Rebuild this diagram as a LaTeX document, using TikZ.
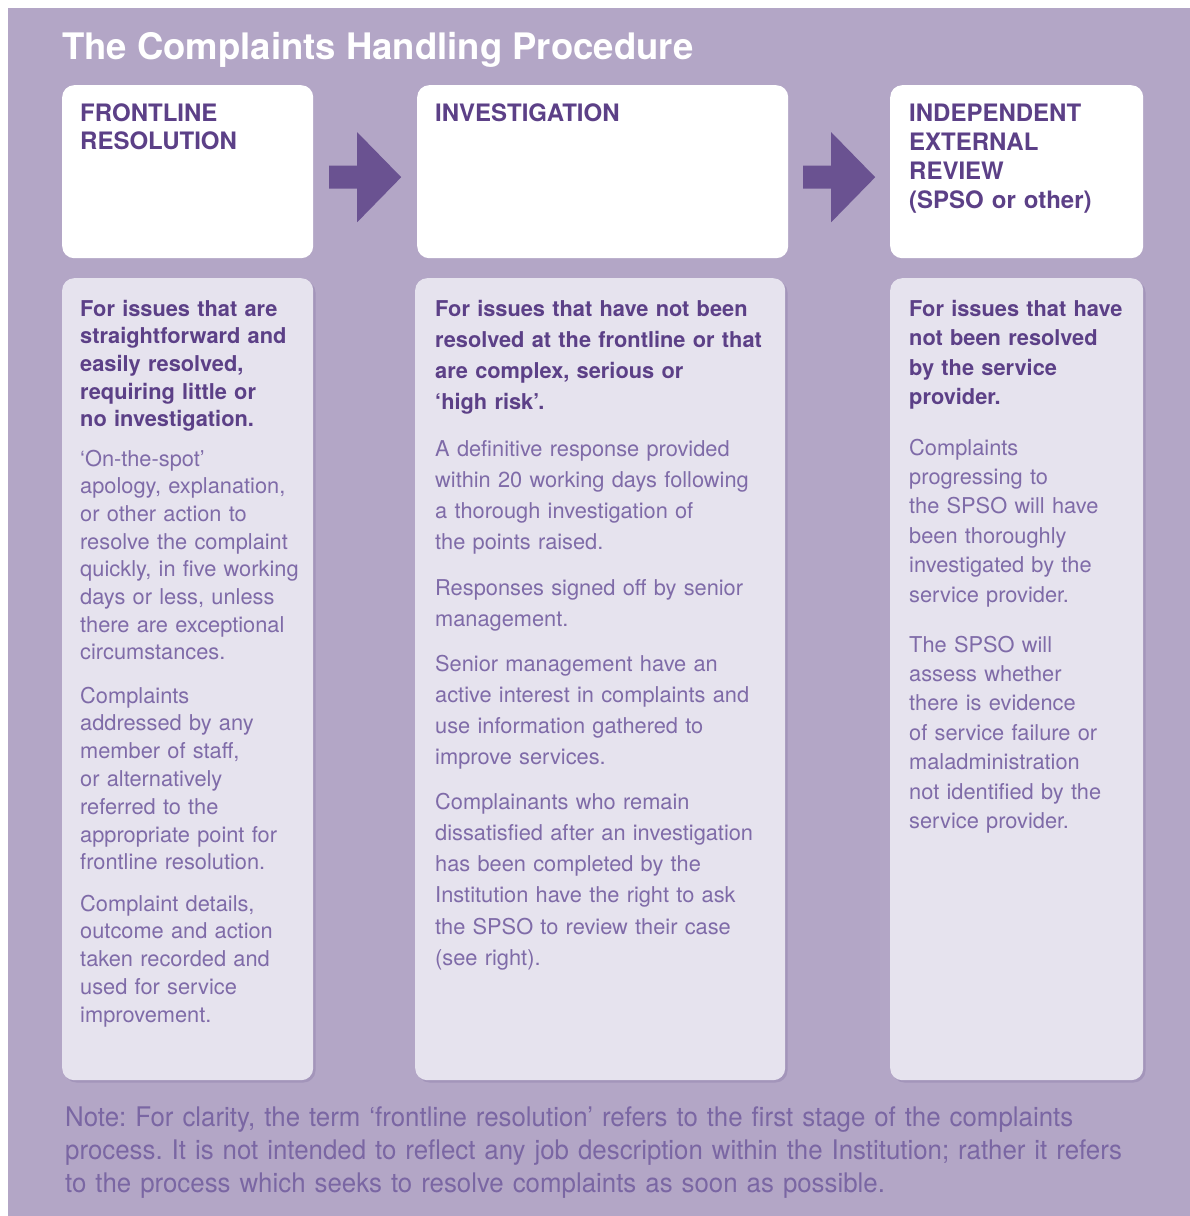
\documentclass[tikz,border=0pt]{standalone}
\usepackage{fontspec}
\setmainfont{TeX Gyre Heros}
\newfontfamily\notefont[FakeStretch=0.957]{TeX Gyre Heros}
\usetikzlibrary{calc}
\definecolor{bgpurple}{HTML}{B3A6C6}
\definecolor{boxlav}{HTML}{E6E3EE}
\definecolor{boxshade}{HTML}{A395BA}
\definecolor{arrowpurple}{HTML}{6A5291}
\definecolor{headpurple}{HTML}{5C4087}
\definecolor{bodypurple}{HTML}{7F6BA8}
\definecolor{notepurple}{HTML}{7A66A3}
\frenchspacing

\begin{document}
\begin{tikzpicture}[x=1pt, y=-1pt, line join=round]
	\tikzset{headbox/.style={fill=white, rounded corners=12pt, anchor=north west, inner sep=0},
		bodybox/.style={fill=boxlav, rounded corners=12pt, anchor=north west, inner sep=0},
		headtxt/.style={anchor=base west, inner sep=0, text=headpurple, text width=240pt, align=left, font=\fontsize{24}{#1}\selectfont\bfseries},
		boldtxt/.style={anchor=base west, inner sep=0, text=headpurple, text width=330pt, align=left, font=\fontsize{21.8}{#1}\selectfont\bfseries},
		lighttxt/.style={anchor=base west, inner sep=0, text=bodypurple, text width=330pt, align=left, font=\fontsize{21.8}{#1}\selectfont}}
	\useasboundingbox (0,0) rectangle (1190,1216);
	\fill[bgpurple] (8,8) rectangle (1190,1216);
	\node[anchor=base west, inner sep=0, text=white, font=\fontsize{36.5}{40}\selectfont\bfseries] (title) at (62,59) {The Complaints Handling Procedure};
	% top boxes
	\node[headbox, minimum width=251pt, minimum height=173pt] (frTop) at (62,85) {};
	\node[headbox, minimum width=371pt, minimum height=173pt] (invTop) at (417,85) {};
	\node[headbox, minimum width=253pt, minimum height=173pt] (extTop) at (890,85) {};
	\foreach \a/\b in {frTop/invTop, invTop/extTop}
		\fill[arrowpurple] ($(\a.east)!0.5!(\b.west)+(-36,-6)$) -- ++(28,0) -- ++(0,-33.5) -- ++(44,45) -- ++(-44,45) -- ++(0,-33.5) -- ++(-28,0) -- cycle;
	\node[headtxt=28.5] (frHead) at (80,121) {FRONTLINE\\RESOLUTION};
	\node[headtxt=28.5] (invHead) at (435,121) {INVESTIGATION};
	\node[headtxt=29.3] (extHead) at (909,121) {INDEPENDENT\\EXTERNAL\\REVIEW\\(SPSO or other)};
	% lower boxes
	\foreach \x/\w in {62/251, 415/370, 890/253}
		\fill[boxshade, rounded corners=12pt] (\x+2.5,280.5) rectangle ++(\w,802);
	\node[bodybox, minimum width=251pt, minimum height=802pt] (frBody) at (62,278) {};
	\node[bodybox, minimum width=370pt, minimum height=802pt] (invBody) at (415,278) {};
	\node[bodybox, minimum width=253pt, minimum height=802pt] (extBody) at (890,278) {};
	\node[boldtxt=27.7] (frLead) at (80,316) {For issues that are\\straightforward and\\easily resolved,\\requiring little or\\no investigation.};
	\node[lighttxt=27.7] (frP1) at (80,466) {‘On-the-spot’\\apology, explanation,\\or other action to\\resolve the complaint\\quickly, in five working\\days or less, unless\\there are exceptional\\circumstances.};
	\node[lighttxt=27.8] (frP2) at (80,703) {Complaints\\addressed by any\\member of staff,\\or alternatively\\referred to the\\appropriate point for\\frontline resolution.};
	\node[lighttxt=27.8] (frP3) at (80,911) {Complaint details,\\outcome and action\\taken recorded and\\used for service\\improvement.};
	\node[boldtxt=31.2] (invLead) at (435,316) {For issues that have not been\\resolved at the frontline or that\\are complex, serious or\\‘high risk’.};
	\node[lighttxt=31] (invP1) at (435,456) {A definitive response provided\\within 20 working days following\\a thorough investigation of\\the points raised.};
	\node[lighttxt=31] (invP2) at (435,595) {Responses signed off by senior\\management.};
	\node[lighttxt=31] (invP3) at (435,671) {Senior management have an\\active interest in complaints and\\use information gathered to\\improve services.};
	\node[lighttxt=31.3] (invP4) at (435,809) {Complainants who remain\\dissatisfied after an investigation\\has been completed by the\\Institution have the right to ask\\the SPSO to review their case\\(see right).};
	\node[boldtxt=29.5] (extLead) at (909,316) {For issues that have\\not been resolved\\by the service\\provider.};
	\node[lighttxt=29.4] (extP1) at (909,455) {Complaints\\progressing to\\the SPSO will have\\been thoroughly\\investigated by the\\service provider.};
	\node[lighttxt=29.4] (extP2) at (909,652) {The SPSO will\\assess whether\\there is evidence\\of service failure or\\maladministration\\not identified by the\\service provider.};
	% note
	\node[anchor=base west, inner sep=0, text=notepurple, text width=1120pt, align=left, font=\notefont\fontsize{27}{33}\selectfont] (note) at (65,1126) {Note: For clarity, the term ‘frontline resolution’ refers to the first stage of the complaints\\process. It is not intended to reflect any job description within the Institution; rather it refers\\to the process which seeks to resolve complaints as soon as possible.};
\end{tikzpicture}
\end{document}
